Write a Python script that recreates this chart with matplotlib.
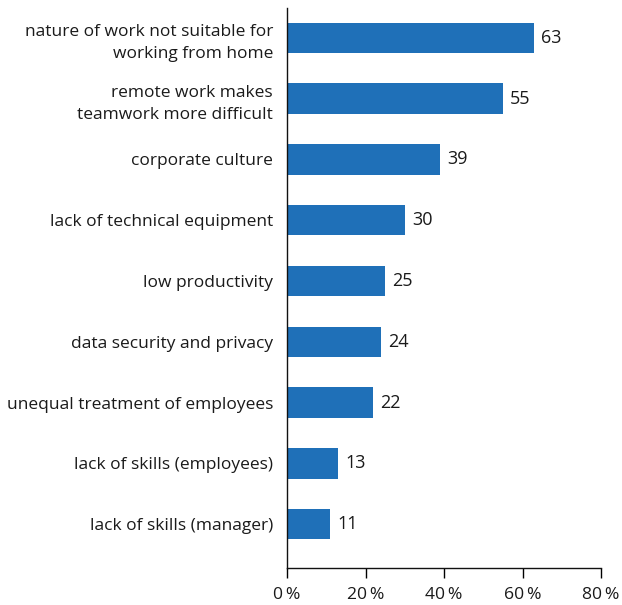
import matplotlib
matplotlib.use("Agg")
import matplotlib.pyplot as plt
from matplotlib.ticker import FuncFormatter

categories = [
    "nature of work not suitable for\nworking from home",
    "remote work makes\nteamwork more difficult",
    "corporate culture",
    "lack of technical equipment",
    "low productivity",
    "data security and privacy",
    "unequal treatment of employees",
    "lack of skills (employees)",
    "lack of skills (manager)",
]
values = [63, 55, 39, 30, 25, 24, 22, 13, 11]
xticks = [0, 20, 40, 60, 80]

plt.rcParams['font.family'] = ['Open Sans', 'DejaVu Sans']

fig = plt.figure(figsize=(6.22, 6.05), dpi=100)
ax = fig.add_axes([287/622, 37/605, 314/622, 560/605])

pos = list(range(len(categories)))
bars = ax.barh(pos, values, height=0.5, color="#1f70b8")
ax.set_ylim(8.72, -0.49)
ax.set_xlim(0, 80)
ax.set_yticks(pos)
ax.set_yticklabels(categories, fontsize=12.5, color="#1a1a1a", linespacing=1.5)
ax.tick_params(axis='y', length=0, pad=10)
ax.set_xticks(xticks)
ax.xaxis.set_major_formatter(FuncFormatter(lambda v, p: f"{int(v)}\u2009%"))
ax.tick_params(axis='x', length=7, width=1, labelsize=12.6, pad=7, labelcolor="#1a1a1a")
for lbl in ax.get_yticklabels():
    lbl.set_horizontalalignment('right')
for s in ['top', 'right']:
    ax.spines[s].set_visible(False)
for s in ['left', 'bottom']:
    ax.spines[s].set_linewidth(1)
    ax.spines[s].set_color("#111111")
for v, p in zip(values, pos):
    ax.text(v + 1.8, p, str(v), va='center', ha='left', fontsize=13, color="#1a1a1a")

fig.savefig("out.png", dpi=100)
